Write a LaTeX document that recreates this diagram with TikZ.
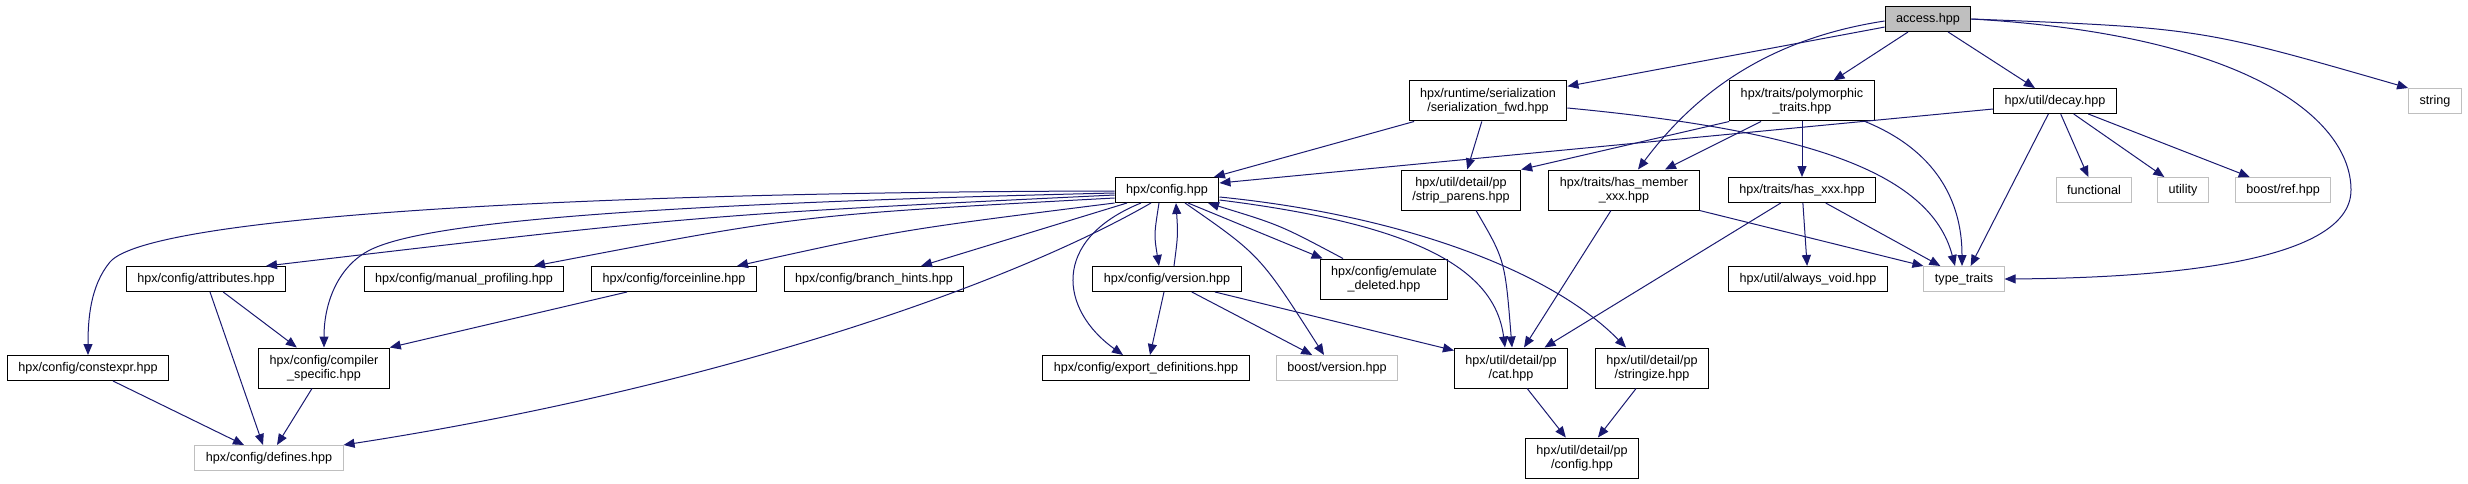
\documentclass[tikz,border=0pt]{standalone}
\usepackage{fontspec}
\setmainfont{Liberation Sans}
\usepackage{tikz}
\usetikzlibrary{arrows.meta}
\definecolor{edgeblue}{HTML}{191970}
\definecolor{sysgray}{HTML}{BFBFBF}
\newcommand{\hdrfont}{\fontsize{12.6}{14}\selectfont}
\tikzstyle{hdr} = [draw=black,fill=white,line width=1pt,inner xsep=11pt,inner ysep=6pt,minimum height=25pt,align=center,font=\hdrfont]
\tikzstyle{two} = [minimum height=40pt]
\tikzstyle{sys} = [hdr,draw=sysgray]
\tikzstyle{cur} = [hdr,fill=sysgray]
\tikzstyle{dep} = [draw=edgeblue,line width=1pt,-{Triangle[length=11pt,width=9pt]}]

\begin{document}
\begin{tikzpicture}[x=1pt,y=-1pt]
\useasboundingbox (0,0) rectangle (2468,484);

\draw(1928,19) node[cur] (access) {access.hpp};

\draw(1488,101) node[hdr,two] (serfwd) {hpx/runtime/serialization\\/serialization\_fwd.hpp};
\draw(1802,101) node[hdr,two] (polytr) {hpx/traits/polymorphic\\\_traits.hpp};
\draw(2055,101) node[hdr] (decay) {hpx/util/decay.hpp};
\draw(2435,101) node[sys] (str) {string};

\draw(1167,190) node[hdr] (config) {hpx/config.hpp};
\draw(1461,190) node[hdr,two] (strip) {hpx/util/detail/pp\\/strip\_parens.hpp};
\draw(1624,190) node[hdr,two] (hasmem) {hpx/traits/has\_member\\\_xxx.hpp};
\draw(1802,190) node[hdr] (hasxxx) {hpx/traits/has\_xxx.hpp};
\draw(2094,190) node[sys] (functional) {functional};
\draw(2183,190) node[sys] (utility) {utility};
\draw(2283,190) node[sys] (boostref) {boost/ref.hpp};

\draw(206,279) node[hdr] (attrib) {hpx/config/attributes.hpp};
\draw(464,279) node[hdr] (manprof) {hpx/config/manual\_profiling.hpp};
\draw(674,279) node[hdr] (forceinl) {hpx/config/forceinline.hpp};
\draw(874,279) node[hdr] (branch) {hpx/config/branch\_hints.hpp};
\draw(1167,279) node[hdr] (version) {hpx/config/version.hpp};
\draw(1384,279) node[hdr,two] (emulate) {hpx/config/emulate\\\_deleted.hpp};
\draw(1808,279) node[hdr] (alwaysvoid) {hpx/util/always\_void.hpp};
\draw(1964,279) node[sys] (typetr) {type\_traits};

\draw(88,368) node[hdr] (constexpr) {hpx/config/constexpr.hpp};
\draw(324,368) node[hdr,two] (compiler) {hpx/config/compiler\\\_specific.hpp};
\draw(1146,368) node[hdr] (exportdef) {hpx/config/export\_definitions.hpp};
\draw(1337,368) node[sys] (boostver) {boost/version.hpp};
\draw(1511,368) node[hdr,two] (cat) {hpx/util/detail/pp\\/cat.hpp};
\draw(1652,368) node[hdr,two] (stringize) {hpx/util/detail/pp\\/stringize.hpp};

\draw(269,458) node[sys] (defines) {hpx/config/defines.hpp};
\draw(1582,458) node[hdr,two] (ppconfig) {hpx/util/detail/pp\\/config.hpp};


\draw[dep] (access) -- (serfwd);
\draw[dep] (access) -- (polytr);
\draw[dep] (access) -- (decay);
\draw[dep] ([yshift=-2pt]access.west) .. controls (1760,40) and (1690,100) .. ([xshift=14pt]hasmem.north);
\draw[dep] (access.east) .. controls (2200,28) .. (str.north west);
\draw[dep] (access.east) .. controls (2250,35) and (2351,120) .. (2351,190) .. controls (2351,265) and (2150,278) .. (typetr.east);

\draw[dep] (serfwd) -- (config);
\draw[dep] (serfwd) -- (strip);
\draw[dep] ([yshift=-7pt]serfwd.east) .. controls (1800,130) and (1930,170) .. ([xshift=-9pt]typetr.north);
\draw[dep] (polytr.south west) -- (strip.north east);
\draw[dep] (polytr) -- (hasmem);
\draw[dep] (polytr) -- (hasxxx);
\draw[dep] ([xshift=63pt]polytr.south) .. controls (1935,150) and (1962,200) .. ([xshift=-2pt]typetr.north);
\draw[dep] ([yshift=-8pt]decay.west) -- ([yshift=7pt]config.east);
\draw[dep] (decay) -- (typetr);
\draw[dep] (decay) -- (functional);
\draw[dep] (decay) -- (utility);
\draw[dep] (decay) -- (boostref);

\draw[dep] ([xshift=15pt]strip.south) .. controls (1505,260) .. ([xshift=1pt]cat.north);
\draw[dep] (hasmem) -- (cat);
\draw[dep] (hasmem.south east) -- (typetr.north west);
\draw[dep] (hasxxx) -- (cat);
\draw[dep] (hasxxx) -- (alwaysvoid);
\draw[dep] (hasxxx) -- (typetr);

\draw[dep] ([yshift=-1pt]config.west) .. controls (600,192) and (150,215) .. (110,262) .. controls (90,286) and (88,320) .. (constexpr.north);
\draw[dep] ([yshift=-3pt]config.west) .. controls (600,205) and (420,225) .. (370,250) .. controls (340,265) and (324,300) .. (compiler.north);
\draw[dep] ([yshift=-5pt]config.west) .. controls (700,215) .. ([xshift=60pt]attrib.north);
\draw[dep] ([yshift=-8pt]config.west) .. controls (800,215) .. ([xshift=70pt]manprof.north);
\draw[dep] (config.south west) .. controls (900,230) .. ([xshift=63pt]forceinl.north);
\draw[dep] ([xshift=-40pt]config.south) -- ([xshift=47pt]branch.north);
\draw[dep] ([xshift=-16pt]config.south) .. controls (1000,290) and (700,390) .. (defines.north east);
\draw[dep] ([xshift=-8pt]config.south) .. controls (1154,235) .. ([xshift=-8pt]version.north);
\draw[dep] ([xshift=7pt]version.north) .. controls (1178,235) .. ([xshift=9pt]config.south);
\draw[dep] ([xshift=-26pt]config.south) .. controls (1050,240) and (1060,310) .. ([xshift=-23pt]exportdef.north);
\draw[dep] ([xshift=18pt]config.south) .. controls (1260,255) .. ([xshift=-13pt]boostver.north);
\draw[dep] ([xshift=21pt]config.south) -- ([xshift=3pt]emulate.north west);
\draw[dep] ([xshift=-41pt]emulate.north) .. controls (1280,225) .. ([xshift=41pt]config.south);
\draw[dep] ([yshift=-10pt]config.east) .. controls (1420,225) and (1495,270) .. ([xshift=-6pt]cat.north);
\draw[dep] ([yshift=-7pt]config.east) .. controls (1400,215) and (1550,270) .. ([xshift=-26pt]stringize.north);

\draw[dep] ([xshift=-3pt]version.south) -- ([xshift=4pt]exportdef.north);
\draw[dep] (version) -- (boostver);
\draw[dep] ([xshift=48pt]version.south) -- ([yshift=-3pt]cat.north west);

\draw[dep] (attrib) -- (compiler);
\draw[dep] ([xshift=4pt]attrib.south) -- ([xshift=-6pt]defines.north);
\draw[dep] ([xshift=-47pt]forceinl.south) -- (compiler.north east);
\draw[dep] ([xshift=25pt]constexpr.south) -- ([xshift=-25pt]defines.north);
\draw[dep] ([xshift=-12pt]compiler.south) -- ([xshift=8pt]defines.north);
\draw[dep] (cat) -- (ppconfig);
\draw[dep] (stringize) -- (ppconfig);

\end{tikzpicture}
\end{document}
